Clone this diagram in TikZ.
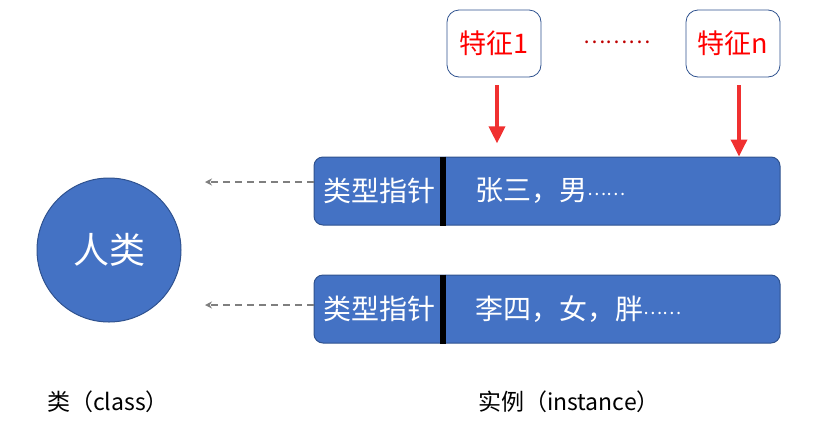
\documentclass[tikz,border=0pt]{standalone}
\usepackage{fontspec}
\setmainfont{Noto Sans CJK SC}
\usetikzlibrary{shapes, arrows.meta, positioning, calc}
\definecolor{instblue}{HTML}{4472C4}
\definecolor{instborder}{HTML}{2F528F}
\definecolor{featred}{HTML}{FF0000}
\definecolor{arrowred}{HTML}{F03030}
\definecolor{dotred}{HTML}{C00000}
\definecolor{ptrgray}{HTML}{7F7F7F}
\newcommand{\instdots}{\raisebox{5pt}{\fontsize{18}{20}\selectfont ……}}

\begin{document}
\begin{tikzpicture}[
			x=1pt, y=-1pt,
			>=Latex,
			inst/.style={draw=instborder, fill=instblue, line width=1pt, rounded corners=9pt, minimum width=466pt, minimum height=68pt},
			cls/.style={draw=instborder, fill=instblue, line width=1pt, circle, minimum size=144pt, text=white, font=\fontsize{36}{40}\selectfont},
			feat/.style={draw=instborder, fill=white, line width=0.8pt, rounded corners=12pt, minimum width=94pt, minimum height=67pt, text=featred, font=\fontsize{27}{30}\selectfont},
			intext/.style={text=white, inner sep=0pt, font=\fontsize{28}{32}\selectfont},
			caption/.style={inner sep=0pt, anchor=west, font=\fontsize{23}{26}\selectfont},
			featarrow/.style={draw=arrowred, line width=3.5pt, -{Triangle[length=17pt, width=16pt, fill=arrowred]}},
			ptrarrow/.style={draw=ptrgray, line width=1.5pt, dash pattern=on 7pt off 5pt, -{Stealth[length=7pt, width=7pt]}}
			]
			\useasboundingbox (0,0) rectangle (816,440);
			
			% --- Klasa i instancje ---
			\node[cls] (human) at (109,250) {人类};
			\node[inst] (inst1) at (547,191) {};
			\node[inst, below=49pt of inst1] (inst2) {};
			
			% --- Cechy ---
			\node[feat] (feat1) at (494,43.5) {特征1};
			\node[feat] (featn) at (733,43.5) {特征n};
			\node[text=dotred, font=\fontsize{21}{24}\selectfont, inner sep=0pt] (dots) at (617,42) {………};
			
			% --- Zawartość instancji ---
			\foreach \i/\data in {1/{张三，男\instdots}, 2/{李四，女，胖\instdots}} {
				\node[intext] (ptr\i) at ([xshift=66pt]inst\i.west) {类型指针};
				\draw[black, line width=6pt] ([xshift=129pt]inst\i.north west) -- ([xshift=129pt]inst\i.south west);
				\node[intext, anchor=west] (data\i) at ([xshift=162pt]inst\i.west) {\data};
			}
			
			% --- Wskaźniki typu ---
			\coordinate (cls1) at (205,182);
			\coordinate (cls2) at (205,305);
			\draw[ptrarrow] (inst1.west |- cls1) -- (cls1);
			\draw[ptrarrow] (inst2.west |- cls2) -- (cls2);
			
			% --- Strzałki cech ---
			\coordinate (feat1tip) at ($(feat1.south)+(3,66)$);
			\coordinate (featnx) at ($(featn.south)+(6,0)$);
			\draw[featarrow] ($(feat1.south)+(3,8)$) -- (feat1tip);
			\draw[featarrow] ($(featnx)+(0,8)$) -- (inst1.north -| featnx);
			
			% --- Podpisy ---
			\node[caption] (clslabel) at (47,402) {类（class）};
			\node[caption] (instlabel) at (478,402) {实例（instance）};
			
		\end{tikzpicture}
\end{document}
